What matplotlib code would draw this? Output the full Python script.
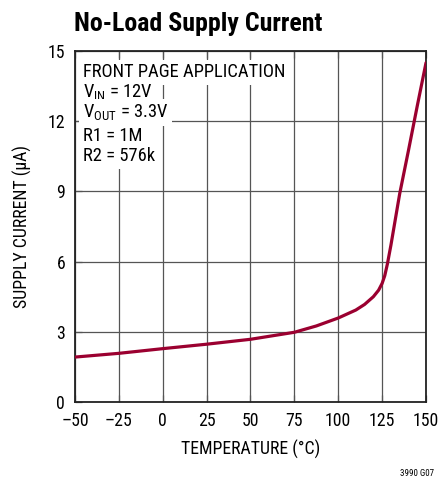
# no-load supply current vs temperature, redrawn from datasheet figure

import matplotlib
matplotlib.use('Agg')
from matplotlib import pyplot as plt

fonts = ['Roboto Condensed', 'Archivo Narrow', 'DejaVu Sans']
plt.rcParams['font.family'] = fonts
plt.rcParams['mathtext.fontset'] = 'custom'
plt.rcParams['mathtext.rm'] = fonts[0]
plt.rcParams['mathtext.it'] = fonts[0]

# curve
temps = [-50, -25, 0, 25, 50, 75, 87.5, 100, 110, 115, 120, 123, 125, 126.5, 128, 130,
         135, 140, 145, 150]
current = [1.92, 2.08, 2.28, 2.47, 2.68, 2.98, 3.25, 3.59, 3.93, 4.17, 4.5, 4.78, 5.07, 5.4,
           5.9, 6.7, 8.9, 10.75, 12.65, 14.5]

x_ticks = [-50, -25, 0, 25, 50, 75, 100, 125, 150]
x_labels = ['–50', '–25', '0', '25', '50', '75', '100', '125', '150']
y_ticks = [0, 3, 6, 9, 12, 15]

notes = ['FRONT PAGE APPLICATION', r'V$_{\mathrm{IN}}$ = 12V', r'V$_{\mathrm{OUT}}$ = 3.3V',
         'R1 = 1M', 'R2 = 576k']

line_color = '#9b0030'
grid_color = '#555555'

fig = plt.figure(figsize=(4.41, 4.82), dpi=100)
ax = fig.add_axes([0.170, 0.166, 0.796, 0.728])
ax.set_axisbelow(True)

ax.plot(temps, current, color=line_color, linewidth=2.3, solid_capstyle='round',
    solid_joinstyle='round', zorder=4)

ax.set_xlim(-50, 150)
ax.set_ylim(0, 15)
ax.set_xticks(x_ticks, x_labels)
ax.set_yticks(y_ticks)
ax.grid(True, color=grid_color, linewidth=0.9)
ax.tick_params(direction='in', length=5, width=0.9, top=True, right=False,
    labelsize=12.8, pad=7, color=grid_color)
for s in ax.spines.values():
    s.set_linewidth(1.3)
    s.set_color('#222222')

ax.set_xlabel('TEMPERATURE (°C)', fontsize=12.8, labelpad=7)
ax.set_ylabel('SUPPLY CURRENT (µA)', fontsize=12.8, labelpad=11)

# condition block, each line on its own white patch
ys = [0.925, 0.868, 0.811, 0.745, 0.686]
for txt, yy in zip(notes, ys):
    ax.text(0.022, yy, txt, transform=ax.transAxes, fontsize=13.3, va='baseline', ha='left',
        zorder=3, bbox=dict(facecolor='white', edgecolor='none', pad=2.5))

fig.text(0.168, 0.935, 'No-Load Supply Current', fontsize=18.6, fontweight='bold', ha='left',
    va='baseline')
fig.text(0.985, 0.008, '3990 G07', fontsize=6.5, ha='right', va='bottom')

plt.savefig('out.png', dpi=100)
